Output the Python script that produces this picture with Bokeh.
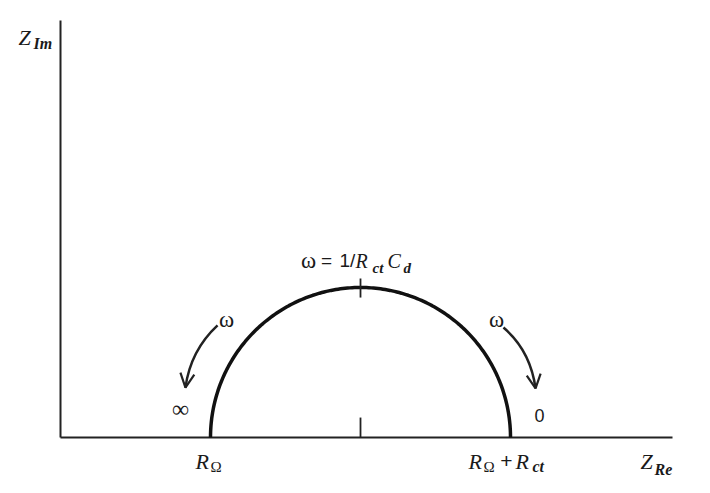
import numpy as np
from bokeh.plotting import figure
from bokeh.models import Range1d, Arrow, OpenHead
from bokeh.core.properties import value
from bokeh.embed import file_html
from bokeh.resources import INLINE

# ---- data (arbitrary units) ----
R_OMEGA = 1.0          # solution resistance
R_CT = 2.0             # charge-transfer resistance
X_AXIS_END = 4.08      # Z_Re axis extent
Y_AXIS_END = 2.78      # Z_Im axis extent

# arrows (bezier: start, control, end)
ARROW_LEFT = [(1.047, 0.747), (0.867, 0.58), (0.833, 0.333)]
ARROW_RIGHT = [(2.953, 0.733), (3.133, 0.58), (3.167, 0.327)]

SCALE = 150.0  # px per unit
W, H = 694, 477
x0 = -60 / SCALE
y1 = 437 / SCALE

p = figure(width=W, height=H, output_backend="svg", toolbar_location=None,
           x_range=Range1d(x0, x0 + W / SCALE), y_range=Range1d(y1 - H / SCALE, y1),
           x_axis_type=None, y_axis_type=None, min_border=0)
p.grid.visible = False
p.outline_line_color = None
p.background_fill_color = "white"
p.border_fill_color = "white"

AX = "#222222"
# axes
p.segment(x0=[0, 0], y0=[0, 0], x1=[0, X_AXIS_END], y1=[Y_AXIS_END, 0],
          line_color=AX, line_width=2)

# semicircle
c = R_OMEGA + R_CT / 2
r = R_CT / 2
th = np.linspace(0, np.pi, 200)
p.line(c + r * np.cos(th), r * np.sin(th), line_color="#111111", line_width=3.5)

# ticks at centre
p.segment(x0=[c, c], y0=[r - 0.067, 0], x1=[c, c], y1=[r + 0.06, 0.133],
          line_color=AX, line_width=1.8)

# arrows
for (s, k, e) in (ARROW_LEFT, ARROW_RIGHT):
    p.quadratic(x0=[s[0]], y0=[s[1]], x1=[e[0]], y1=[e[1]], cx=[k[0]], cy=[k[1]],
                line_color="#222222", line_width=2.5)
    p.add_layout(Arrow(end=OpenHead(size=14, line_width=2.2, line_color="#222222"),
                       x_start=k[0], y_start=k[1], x_end=e[0], y_end=e[1],
                       line_alpha=0))

SERIF = "Liberation Serif"
SANS = "Liberation Sans"


def txt(t, ax, ay, xo, yo, size, font=SERIF, style="italic", align="left"):
    p.text(x=[ax], y=[ay], text=[t], x_offset=xo, y_offset=yo,
           text_font=value(font), text_font_size=f"{size}px", text_font_style=style,
           text_align=align, text_baseline="alphabetic", text_color="#1a1a1a")


# Z_Im
txt("Z", 0, Y_AXIS_END, -42, 17, 22)
txt("Im", 0, Y_AXIS_END, -27, 23, 16, style="bold italic")
# Z_Re
txt("Z", X_AXIS_END, 0, -32, 24, 22)
txt("Re", X_AXIS_END, 0, -18, 32, 16, style="bold italic")
# R_Omega
txt("R", R_OMEGA, 0, -15, 24, 22)
txt("Ω", R_OMEGA, 0, 0, 29, 15, style="normal")
# R_Omega + R_ct
B = R_OMEGA + R_CT
txt("R", B, 0, -42, 24, 22)
txt("Ω", B, 0, -27, 29, 15, style="normal")
txt("+", B, 0, -4, 23, 21, font=SANS, style="normal", align="center")
txt("R", B, 0, 5, 24, 22)
txt("ct", B, 0, 22, 29, 16, style="bold italic")
# omega = 1/RctCd
txt("ω", c, r, -52, -27, 23, style="normal", align="center")
txt("=", c, r, -34, -27, 19, font=SANS, style="normal", align="center")
txt("1/", c, r, -21, -27, 19, font=SANS, style="normal")
txt("R", c, r, -5, -27, 20)
txt("ct", c, r, 12, -20, 15, style="bold italic")
txt("C", c, r, 27, -27, 20)
txt("d", c, r, 43, -20, 15, style="bold italic")
# side labels
txt("ω", R_OMEGA, 0, 16, -118, 23, style="normal", align="center")
txt("∞", R_OMEGA, 0, -30, -29, 24, style="normal", align="center")
txt("ω", B, 0, -14, -118, 23, style="normal", align="center")
txt("0", B, 0, 29, -22, 18, font=SANS, style="normal", align="center")

open("out.html", "w").write(file_html(p, INLINE))
